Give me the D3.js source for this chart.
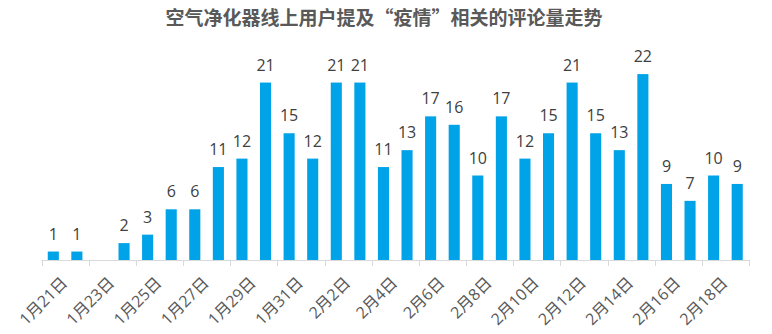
<!DOCTYPE html>
<html><head><meta charset="utf-8">
<script src="https://cdn.jsdelivr.net/npm/d3@7"></script>
<style>body{margin:0;background:#fff}svg{display:block}</style>
</head><body>
<svg id="c" width="772" height="334"></svg>
<script>
const title = "空气净化器线上用户提及“疫情”相关的评论量走势";
const dates = ["1月21日","1月22日","1月23日","1月24日","1月25日","1月26日","1月27日","1月28日","1月29日","1月30日","1月31日","2月1日","2月2日","2月3日","2月4日","2月5日","2月6日","2月7日","2月8日","2月9日","2月10日","2月11日","2月12日","2月13日","2月14日","2月15日","2月16日","2月17日","2月18日","2月19日"];
const counts = [1,1,null,2,3,6,6,11,12,21,15,12,21,21,11,13,17,16,10,17,12,15,21,15,13,22,9,7,10,9];
const tickLabels = ["1月21日","1月23日","1月25日","1月27日","1月29日","1月31日","2月2日","2月4日","2月6日","2月8日","2月10日","2月12日","2月14日","2月16日","2月18日"];

const svg = d3.select("#c");
const font = "'Microsoft YaHei','Noto Sans CJK SC',sans-serif";
const numFont = "'Open Sans','Noto Sans CJK SC',sans-serif";
svg.append("text").attr("x",384).attr("y",25).attr("text-anchor","middle")
  .attr("font-family",font).attr("font-weight","bold").attr("font-size",19)
  .attr("fill","#595959").text(title);

const x = d3.scaleBand().domain(dates).range([41.5,749]).paddingInner(0.53).paddingOuter(0.265);
const y = d3.scaleLinear().domain([0,25]).range([260,48.75]);

svg.append("g").selectAll("rect").data(dates.map((d,i)=>({d,v:counts[i]})).filter(o=>o.v!=null))
  .join("rect").attr("x",o=>x(o.d)).attr("width",x.bandwidth())
  .attr("y",o=>y(o.v)).attr("height",o=>y(0)-y(o.v)).attr("fill","#00A2E8");

svg.append("g").selectAll("text").data(dates.map((d,i)=>({d,v:counts[i]})).filter(o=>o.v!=null))
  .join("text").attr("x",o=>x(o.d)+x.bandwidth()/2).attr("y",o=>y(o.v)-12)
  .attr("text-anchor","middle").attr("font-family",numFont).attr("font-size",16)
  .attr("fill","#404040").text(o=>o.v);

// axis line & ticks at every second category boundary
const step = x.step();
const x0 = 41.5;
const ax = svg.append("g");
ax.append("line").attr("x1",x0).attr("x2",749).attr("y1",260.5).attr("y2",260.5).attr("stroke","#d9d9d9").attr("stroke-width",1);
const tickPos = d3.range(0, dates.length+1, 2).map(i=>x0+i*step);
tickPos.push(749);
ax.selectAll("line.t").data(tickPos).join("line").attr("class","t")
  .attr("x1",d=>Math.round(d)+0.5).attr("x2",d=>Math.round(d)+0.5).attr("y1",260).attr("y2",266)
  .attr("stroke","#d9d9d9");

ax.selectAll("text").data(tickLabels).join("text")
  .attr("transform",d=>`translate(${x(d)+x.bandwidth()/2+7},${276}) rotate(-45)`)
  .attr("text-anchor","end").attr("dy","0.7em").attr("font-family",numFont).attr("font-size",16)
  .attr("fill","#595959").text(d=>d);
</script>
</body></html>
